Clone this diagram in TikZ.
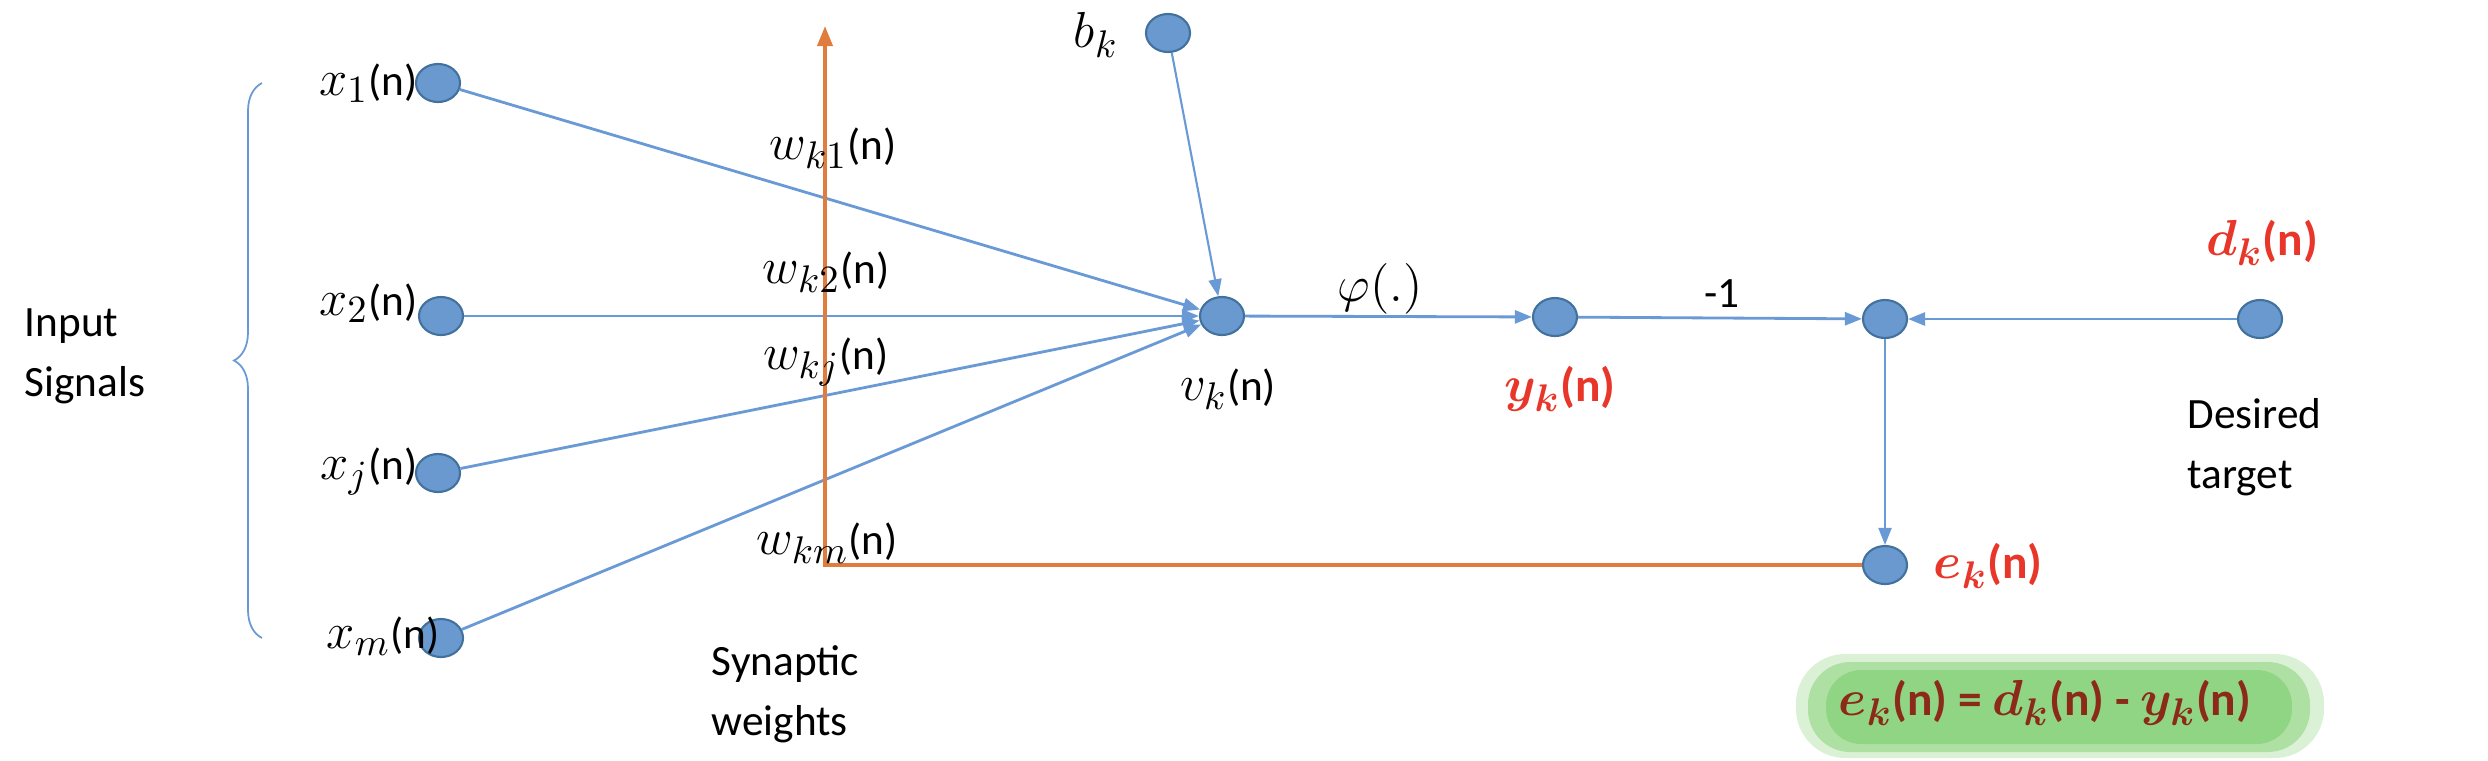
\documentclass[tikz,border=0pt]{standalone}
\usepackage{fontspec}
\setmainfont{Carlito}
\usepackage{bm}
\usetikzlibrary{shapes.geometric,arrows.meta,decorations.pathreplacing}
\definecolor{nodefill}{HTML}{6A99D0}
\definecolor{nodeline}{HTML}{41719C}
\definecolor{linkblue}{HTML}{6A9AD6}
\definecolor{orangeline}{HTML}{E07D3E}
\definecolor{redtxt}{HTML}{E8372A}
\definecolor{darkred}{HTML}{8C2A1A}
\definecolor{hlgreen}{HTML}{6CC75A}
\newcommand{\mth}[1]{{\fontsize{15}{17}\selectfont$#1$}}
\begin{document}
\begin{tikzpicture}[x=0.01cm,y=-0.01cm,
  font=\fontsize{12.3}{17}\selectfont,
  dot/.style={ellipse,draw=nodeline,fill=nodefill,line width=0.6pt,minimum width=0.44cm,minimum height=0.38cm,inner sep=0pt},
  lbl/.style={inner sep=0pt},
  link/.style={draw=linkblue,line width=0.8pt,-{Triangle[length=0.17cm,width=0.13cm]}},
  thinlink/.style={draw=linkblue,line width=0.6pt,-{Triangle[length=0.17cm,width=0.13cm]}},
  fb/.style={draw=orangeline,line width=1.1pt},
  redlbl/.style={inner sep=0pt,text=redtxt,font=\fontsize{13.5}{17}\selectfont\bfseries}
]
\useasboundingbox (0,0) rectangle (2488,760);

% green highlight
\fill[hlgreen,opacity=0.25,rounded corners=14] (1796,654) rectangle (2324,758);
\fill[hlgreen,opacity=0.40,rounded corners=12] (1808,662) rectangle (2310,752);
\fill[hlgreen,opacity=0.45,rounded corners=10] (1826,670) rectangle (2292,744);

% nodes
\node[dot] (x1) at (438,83) {};
\node[dot] (x2) at (441,316) {};
\node[dot] (xj) at (438,473) {};
\node[dot] (xm) at (441,638) {};
\node[dot] (bk) at (1168,33) {};
\node[dot] (vk) at (1222,316) {};
\node[dot] (yk) at (1555,317) {};
\node[dot] (sum) at (1885,319) {};
\node[dot] (dk) at (2260,319) {};
\node[dot] (ek) at (1885,565) {};

% blue connectors
\draw[link] (x1) -- (vk);
\draw[link] (x2) -- (vk);
\draw[link] (xj) -- (vk);
\draw[link] (xm) -- (vk);
\draw[thinlink] (bk) -- (vk);
\draw[link] (vk) -- (yk);
\draw[link] (yk) -- (sum);
\draw[link] (dk) -- (sum);
\draw[thinlink] (sum) -- (ek);

% orange feedback
\coordinate (ocorner) at (825,565);
\coordinate (otop) at (825,26);
\draw[fb,-{Triangle[length=0.2cm,width=0.15cm]}] (ek.west) -- (ocorner) -- (otop);

% brace
\draw[draw=linkblue,line width=0.5pt,decorate,decoration={brace,amplitude=0.28cm,aspect=0.5}] (262,638) -- (262,83);

% labels
\node[lbl,anchor=east] (lx1) at (418,83) {\mth{x_1}(n)};
\node[lbl,anchor=east] (lx2) at (418,303) {\mth{x_2}(n)};
\node[lbl,anchor=east] (lxj) at (418,471) {\mth{x_j}(n)};
\node[lbl,anchor=east] (lxm) at (440,636) {\mth{x_m}(n)};
\node[lbl] (w1) at (833,148) {\mth{w_{k1}}(n)};
\node[lbl] (w2) at (826,272) {\mth{w_{k2}}(n)};
\node[lbl] (wj) at (826,362) {\mth{w_{kj}}(n)};
\node[lbl] (wm) at (827,543) {\mth{w_{km}}(n)};
\node[lbl] (lbk) at (1096,35) {\mth{b_k}};
\node[lbl] (phi) at (1380,289) {\mth{\varphi(.)}};
\node[lbl] (lvk) at (1228,389) {\mth{v_k}(n)};
\node[lbl] (m1) at (1722,294) {-1};
\node[redlbl] (lyk) at (1560,389) {\mth{\bm{y}_{\bm{k}}}(n)};
\node[redlbl] (ldk) at (2262,243) {\mth{\bm{d}_{\bm{k}}}(n)};
\node[redlbl,anchor=west] (lek) at (1933,566) {\mth{\bm{e}_{\bm{k}}}(n)};
\node[lbl,anchor=west,align=left] (inp) at (24,356) {Input\\Signals};
\node[lbl,anchor=west,align=left] (syn) at (711,694) {Synaptic\\weights};
\node[lbl,anchor=west,align=left] (des) at (2187,447) {Desired\\target};
\node[lbl,text=darkred,font=\fontsize{13.5}{17}\selectfont\bfseries] (eq) at (2045,703)
  {\mth{\bm{e}_{\bm{k}}}(n) = \mth{\bm{d}_{\bm{k}}}(n) - \mth{\bm{y}_{\bm{k}}}(n)};
\end{tikzpicture}
\end{document}
